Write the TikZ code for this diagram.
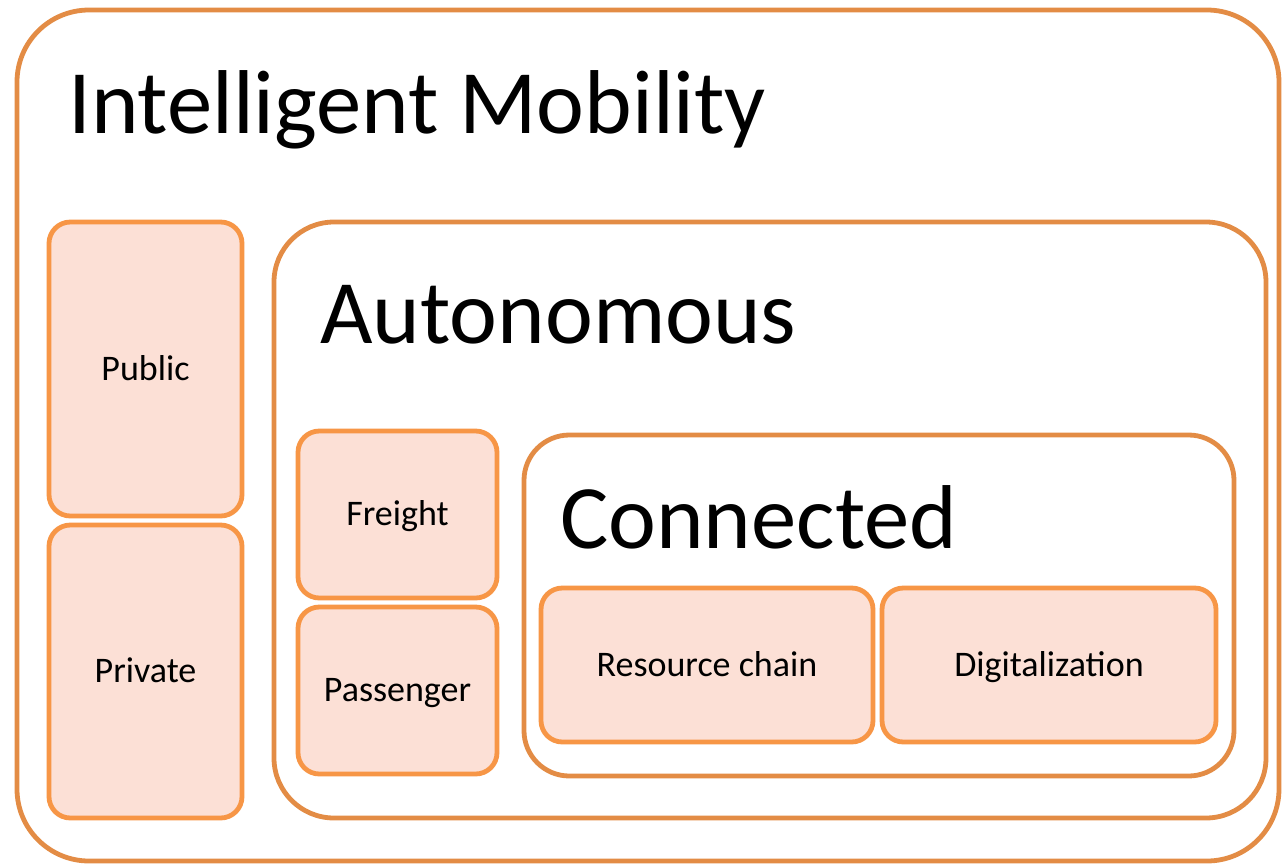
\documentclass[tikz,border=0pt]{standalone}
\usepackage{fontspec}
\setmainfont{Carlito}
\definecolor{frameorange}{HTML}{E38C45}
\definecolor{leaforange}{HTML}{F79646}
\definecolor{leaffill}{HTML}{FCE0D6}
\tikzset{
	frame/.style={draw=frameorange, line width=3.6pt, fill=white},
	leafbox/.style={draw=leaforange, line width=3.6pt, fill=leaffill,
		rounded corners=16pt, text height=17pt, text depth=0pt,
		font=\fontsize{27}{32}\selectfont},
	title/.style={anchor=base west, inner sep=0pt, font=\fontsize{68}{80}\selectfont},
}
\begin{document}
\begin{tikzpicture}[x=0.75pt,y=-0.75pt]
\useasboundingbox (0,0) rectangle (1283,865);

%Intelligent Mobility
\node [frame,
	rounded corners=54pt,
	minimum width=946.5pt,
	minimum height=638.25pt,
]  (imbox)at (648,435.5) {};
\node [title]  (imtext)at (68,133) {Intelligent Mobility};

\node [leafbox,
	minimum width=144.75pt,
	minimum height=220.5pt,
]  (public)at (145.5,369) {Public};
\node [leafbox,
	minimum width=144.75pt,
	minimum height=219.75pt,
]  (private)at (145.5,671.5) {Private};

%Autonomous
\node [frame,
	rounded corners=45pt,
	minimum width=744pt,
	minimum height=447pt,
]  (aubox)at (770,520) {};
\node [title]  (autext)at (320,343) {Autonomous};

\node [leafbox,
	minimum width=149.25pt,
	minimum height=125.25pt,
]  (freight)at (397.5,514.5) {Freight};
\node [leafbox,
	minimum width=149.25pt,
	minimum height=125.25pt,
]  (passenger)at (397.5,690.5) {Passenger};

%Connected
\node [frame,
	rounded corners=34pt,
	minimum width=532.5pt,
	minimum height=255.75pt,
]  (cobox)at (879,605.5) {};
\node [title]  (cotext)at (560,548) {Connected};

\node [leafbox,
	minimum width=249pt,
	minimum height=115.5pt,
]  (resource)at (707,665) {Resource chain};
\node [leafbox,
	minimum width=250.5pt,
	minimum height=115.5pt,
]  (digital)at (1049,665) {Digitalization};

\end{tikzpicture}
\end{document}
